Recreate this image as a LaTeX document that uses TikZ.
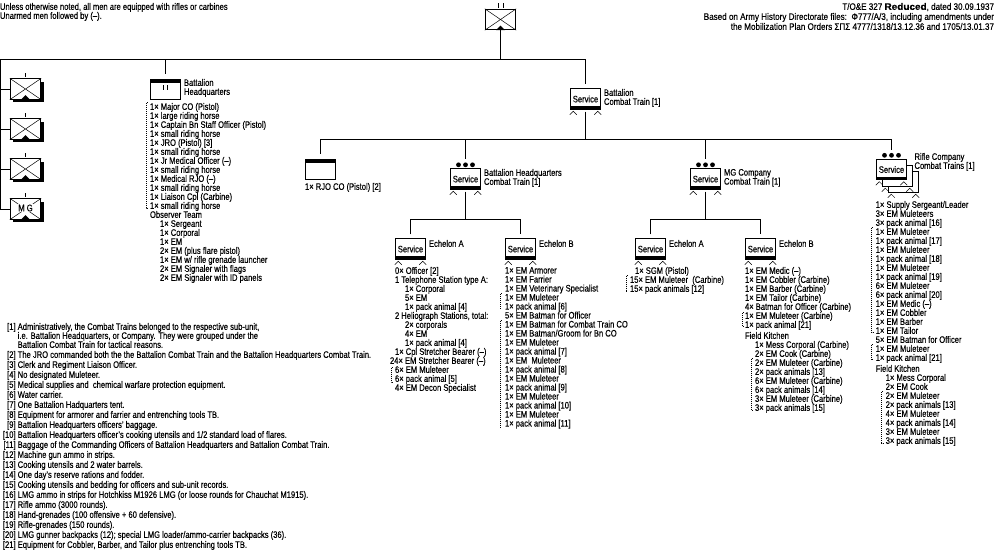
\documentclass[tikz,border=0pt]{standalone}
\usepackage{fontspec}
\setmainfont[FakeStretch=0.8,FakeBold=0.3]{Liberation Sans}
\newfontfamily\headfont[FakeStretch=0.85,FakeBold=0.3,BoldFont={Liberation Sans Bold},BoldFeatures={FakeStretch=1.05,FakeBold=0.5}]{Liberation Sans}
\usepackage{tikz}
\usetikzlibrary{positioning}
\usetikzlibrary{calc}
\tikzstyle{textlist} = [inner sep=0pt, outer sep=0pt, align=left, anchor=north west, yshift=-1pt, font=\fontsize{9.5}{9}\selectfont]
\tikzstyle{unitname} = [textlist]
\tikzstyle{unitbox} = [rectangle, draw=black, fill=white, line width=0.9pt, minimum width=30.5pt, minimum height=20.5pt, inner sep=0pt, font=\fontsize{9.5}{9}\selectfont]
\tikzstyle{link} = [line width=0.9pt]
\tikzstyle{dotbar} = [line width=1pt, dash pattern=on 1pt off 1pt]
\newcommand{\gap}{\hspace*{10pt}}
% X and triangle of an infantry box
\newcommand{\crossmark}[1]{
    \draw [line width=0.5pt] (#1.north west) -- (#1.south east) (#1.north east) -- (#1.south west);
    \fill [black] ($(#1.south)+(-4.5pt,0pt)$) -- ($(#1.south)+(0pt,4.5pt)$) -- ($(#1.south)+(4.5pt,0pt)$) -- cycle;
}
% foot marks of a train box
\newcommand{\wheelmark}[1]{
    \draw [line width=0.5pt] ($(#1.south west)+(0pt,-5pt)$) -- ++(3.5pt,3.5pt) -- ++(3.5pt,-3.5pt);
    \draw [line width=0.5pt] ($(#1.south east)+(-7pt,-5pt)$) -- ++(3.5pt,3.5pt) -- ++(3.5pt,-3.5pt);
}
% black bar along the foot of a service box
\newcommand{\trainmark}[1]{
    \fill [black] (#1.south west) rectangle ($(#1.south east)+(0pt,3.5pt)$);
    \wheelmark{#1}
}
\newcommand{\companydots}[1]{
    \fill [black] ($(#1.north)+(-7pt,3.5pt)$) circle (2.4pt) ($(#1.north)+(0pt,3.5pt)$) circle (2.4pt) ($(#1.north)+(7pt,3.5pt)$) circle (2.4pt);
}

\begin{document}
\begin{tikzpicture}[x=1pt, y=-1pt]
    \useasboundingbox (0,0) rectangle (1000,550);

    % notes at the top
    \node (general) [textlist] at (0,2) {Unless otherwise noted, all men are equipped with rifles or carbines\\Unarmed men followed by (--).};
    \node (source) [textlist, anchor=north east, align=right, font=\headfont\fontsize{9.5}{10}\selectfont] at (994,2) {T/O\&E 327 \textbf{Reduced}, dated 30.09.1937\\Based on Army History Directorate files: \,Φ777/Α/3, including amendments under\\the Mobilization Plan Orders ΣΠΣ 4777/1318/13.12.36 and 1705/13.01.37};

    % battalion
    \node (battalion) [unitbox] at (500.5,19.5) {};
    \crossmark{battalion}
    \draw [link] (498.5,3) -- (498.5,8) (503,3) -- (503,8);

    % rifle and MG companies
    \foreach \name/\ypos in {coA/89, coB/129, coC/169, coD/209} {
        \fill [black] (13,\ypos-7) rectangle (44,\ypos+13);
        \node (\name) [unitbox] at (25.5,\ypos) {};
        \crossmark{\name}
        \draw [link] (25.5,\ypos-16) -- (25.5,\ypos-12);
    }
    \node (mgtext) [fill=white, inner sep=0.5pt, font=\fontsize{9.5}{9}\selectfont] at (25.5,208) {M G};

    % battalion headquarters
    \node (hq) [unitbox] at (165.5,89.5) {};
    \fill [black] (hq.north west) rectangle ($(hq.north east)+(0pt,-4pt)$);
    \draw [link] (163,85) -- (163,90) (167,85) -- (167,90);
    \node (hqname) [unitname] at (184,78) {Battalion\\Headquarters};

    % battalion combat train
    \node (train) [unitbox] at (585.5,99) {Service};
    \trainmark{train}
    \node (trainname) [unitname] at (604,88) {Battalion\\Combat Train [1]};

    % rjo
    \node (rjo) [unitbox] at (320.5,169.5) {};
    \fill [black] (rjo.north west) rectangle ($(rjo.north east)+(0pt,-4pt)$);
    \node (rjotext) [unitname] at (305,182) {1× RJO CO (Pistol) [2]};

    % battalion headquarters combat train
    \node (hqtrain) [unitbox] at (465.5,179) {Service};
    \trainmark{hqtrain}
    \companydots{hqtrain}
    \node (hqtrainname) [unitname] at (484,168) {Battalion Headquarters\\Combat Train [1]};
    \node (hqA) [unitbox] at (410.5,249) {Service};
    \trainmark{hqA}
    \node (hqAname) [unitname] at (429,239) {Echelon A};
    \node (hqB) [unitbox] at (520.5,249) {Service};
    \trainmark{hqB}
    \node (hqBname) [unitname] at (539,239) {Echelon B};

    % mg company combat train
    \node (mgtrain) [unitbox] at (705.5,179) {Service};
    \trainmark{mgtrain}
    \companydots{mgtrain}
    \node (mgtrainname) [unitname] at (724,168) {MG Company\\Combat Train [1]};
    \node (mgA) [unitbox] at (650.5,249) {Service};
    \trainmark{mgA}
    \node (mgAname) [unitname] at (669,239) {Echelon A};
    \node (mgB) [unitbox] at (760.5,249) {Service};
    \trainmark{mgB}
    \node (mgBname) [unitname] at (779,239) {Echelon B};

    % rifle company combat trains, three stacked
    \node (rifleC) [unitbox] at (903.5,182) {};
    \wheelmark{rifleC}
    \node (rifleB) [unitbox] at (897.5,176) {};
    \wheelmark{rifleB}
    \node (rifleA) [unitbox] at (891.5,169.5) {Service};
    \trainmark{rifleA}
    \companydots{rifleA}
    \node (riflename) [unitname] at (914.5,152) {Rifle Company\\Combat Trains [1]};

    % connectors
    \coordinate (topbus) at (battalion |- 0,59);
    \coordinate (leftbus) at (0.5,59);
    \coordinate (trainbus) at (train |- 0,139.5);
    \coordinate (hqbus) at (hqtrain |- 0,219.5);
    \coordinate (mgbus) at (mgtrain |- 0,219.5);
    \draw [link] (battalion) -- (topbus);
    \draw [link] (topbus) -| ($(hq.north)+(0pt,5pt)$);
    \draw [link] (topbus) -| ($(train.north)+(0pt,4pt)$);
    \draw [link] (topbus) -- (leftbus) |- (coD.west);
    \draw [link] (leftbus |- coA.west) -- (coA.west);
    \draw [link] (leftbus |- coB.west) -- (coB.west);
    \draw [link] (leftbus |- coC.west) -- (coC.west);
    \draw [link] ($(train.south)+(0pt,-2pt)$) -- (trainbus);
    \draw [link] (trainbus) -| ($(rjo.north)+(0pt,4.5pt)$);
    \draw [link] (trainbus -| hqtrain) -- ($(hqtrain.north)+(0pt,9pt)$);
    \draw [link] (trainbus -| mgtrain) -- ($(mgtrain.north)+(0pt,9pt)$);
    \draw [link] (trainbus) -| ($(rifleA.north)+(0pt,9pt)$);
    \draw [link] ($(hqtrain.south)+(0pt,-2pt)$) -- (hqbus);
    \draw [link] ($(hqA.north)+(0pt,4pt)$) |- (hqbus) -| ($(hqB.north)+(0pt,4pt)$);
    \draw [link] ($(mgtrain.south)+(0pt,-2pt)$) -- (mgbus);
    \draw [link] ($(mgA.north)+(0pt,4pt)$) |- (mgbus) -| ($(mgB.north)+(0pt,4pt)$);

    % strengths
    \node (hqlist) [textlist] at (150,102) {1× Major CO (Pistol)\\1× large riding horse\\1× Captain Bn Staff Officer (Pistol)\\1× small riding horse\\1× JRO (Pistol) [3]\\1× small riding horse\\1× Jr Medical Officer (--)\\1× small riding horse\\1× Medical RJO (--)\\1× small riding horse\\1× Liaison Cpl (Carbine)\\1× small riding horse\\Observer Team\\\gap 1× Sergeant\\\gap 1× Corporal\\\gap 1× EM\\\gap 2× EM (plus flare pistol)\\\gap 1× EM w/ rifle grenade launcher\\\gap 2× EM Signaler with flags\\\gap 2× EM Signaler with ID panels};
    \node (hqAlist) [textlist] at (390,266) {\hspace*{5pt}0× Officer [2]\\\hspace*{5pt}1 Telephone Station type A:\\\hspace*{15pt}1× Corporal\\\hspace*{15pt}5× EM\\\hspace*{15pt}1× pack animal [4]\\\hspace*{5pt}2 Heliograph Stations, total:\\\hspace*{15pt}2× corporals\\\hspace*{15pt}4× EM\\\hspace*{15pt}1× pack animal [4]\\\hspace*{5pt}1× Cpl Stretcher Bearer (--)\\24× EM Stretcher Bearer (--)\\\hspace*{5pt}6× EM Muleteer\\\hspace*{5pt}6× pack animal [5]\\\hspace*{5pt}4× EM Decon Specialist};
    \node (hqBlist) [textlist] at (505,266) {1× EM Armorer\\1× EM Farrier\\1× EM Veterinary Specialist\\1× EM Muleteer\\1× pack animal [6]\\5× EM Batman for Officer\\1× EM Batman for Combat Train CO\\1× EM Batman/Groom for Bn CO\\1× EM Muleteer\\1× pack animal [7]\\1× EM \ Muleteer\\1× pack animal [8]\\1× EM Muleteer\\1× pack animal [9]\\1× EM Muleteer\\1× pack animal [10]\\1× EM Muleteer\\1× pack animal [11]};
    \node (mgAlist) [textlist] at (630,266) {\hspace*{5pt}1× SGM (Pistol)\\15× EM Muleteer \ (Carbine)\\15× pack animals [12]};
    \node (mgBlist) [textlist] at (745,266) {1× EM Medic (--)\\1× EM Cobbler (Carbine)\\1× EM Barber (Carbine)\\1× EM Tailor (Carbine)\\4× Batman for Officer (Carbine)\\1× EM Muleteer (Carbine)\\1× pack animal [21]\\[2pt]Field Kitchen\\\gap 1× Mess Corporal (Carbine)\\\gap 2× EM Cook (Carbine)\\\gap 2× EM Muleteer (Carbine)\\\gap 2× pack animals [13]\\\gap 6× EM Muleteer (Carbine)\\\gap 6× pack animals [14]\\\gap 3× EM Muleteer (Carbine)\\\gap 3× pack animals [15]};
    \node (riflelist) [textlist] at (875.7,200) {1× Supply Sergeant/Leader\\3× EM Muleteers\\3× pack animal [16]\\1× EM Muleteer\\1× pack animal [17]\\1× EM Muleteer\\1× pack animal [18]\\1× EM Muleteer\\1× pack animal [19]\\6× EM Muleteer\\6× pack animal [20]\\1× EM Medic (--)\\1× EM Cobbler\\1× EM Barber\\1× EM Tailor\\5× EM Batman for Officer\\1× EM Muleteer\\1× pack animal [21]\\[2pt]Field Kitchen\\\gap 1× Mess Corporal\\\gap 2× EM Cook\\\gap 2× EM Muleteer\\\gap 2× pack animals [13]\\\gap 4× EM Muleteer\\\gap 4× pack animals [14]\\\gap 3× EM Muleteer\\\gap 3× pack animals [15]};

    % dotted brackets
    \draw [dotbar] (147.5,102.5) -- (146,102.5) -- (146,208) -- (147.5,208);
    \draw [dotbar] (392.5,367) -- (391,367) -- (391,382.5) -- (392.5,382.5);
    \draw [dotbar] (501.5,293.5) -- (500,293.5) -- (500,308.5) -- (501.5,308.5);
    \draw [dotbar] (501.5,320) -- (500,320) -- (500,427) -- (501.5,427);
    \draw [dotbar] (627.5,275) -- (626,275) -- (626,291.5) -- (627.5,291.5);
    \draw [dotbar] (743.5,312.5) -- (742,312.5) -- (742,326.5) -- (743.5,326.5);
    \draw [dotbar] (753,358) -- (751.5,358) -- (751.5,410) -- (753,410);
    \draw [dotbar] (873,227) -- (871.5,227) -- (871.5,332.5) -- (873,332.5);
    \draw [dotbar] (873,344) -- (871.5,344) -- (871.5,359) -- (873,359);
    \draw [dotbar] (883,391.5) -- (881.5,391.5) -- (881.5,443) -- (883,443);

    % footnotes
    \node (footnotes) [textlist, font=\fontsize{9.5}{10}\selectfont] at (0,322) {
        \makebox[15.6pt][r]{[1]} Administratively, the Combat Trains belonged to the respective sub-unit,\\[-1pt]
        \hspace*{17.7pt}i.e. Battalion Headquarters, or Company. They were grouped under the\\[-1pt]
        \hspace*{17.7pt}Battalion Combat Train for tactical reasons.\\
        \makebox[15.6pt][r]{[2]} The JRO commanded both the the Battalion Combat Train and the Battalion Headquarters Combat Train.\\
        \makebox[15.6pt][r]{[3]} Clerk and Regiment Liaison Officer.\\
        \makebox[15.6pt][r]{[4]} No designated Muleteer.\\
        \makebox[15.6pt][r]{[5]} Medical supplies and \ chemical warfare protection equipment.\\
        \makebox[15.6pt][r]{[6]} Water carrier.\\
        \makebox[15.6pt][r]{[7]} One Battalion Hadquarters tent.\\
        \makebox[15.6pt][r]{[8]} Equipment for armorer and farrier and entrenching tools TB.\\
        \makebox[15.6pt][r]{[9]} Battalion Headquarters officers' baggage.\\
        \makebox[15.6pt][r]{[10]} Battalion Headquarters officer's cooking utensils and 1/2 standard load of flares.\\
        \makebox[15.6pt][r]{[11]} Baggage of the Commanding Officers of Battalion Headquarters and Battalion Combat Train.\\
        \makebox[15.6pt][r]{[12]} Machine gun ammo in strips.\\
        \makebox[15.6pt][r]{[13]} Cooking utensils and 2 water barrels.\\
        \makebox[15.6pt][r]{[14]} One day's reserve rations and fodder.\\
        \makebox[15.6pt][r]{[15]} Cooking utensils and bedding for officers and sub-unit records.\\
        \makebox[15.6pt][r]{[16]} LMG ammo in strips for Hotchkiss M1926 LMG (or loose rounds for Chauchat M1915).\\
        \makebox[15.6pt][r]{[17]} Rifle ammo (3000 rounds).\\
        \makebox[15.6pt][r]{[18]} Hand-grenades (100 offensive + 60 defensive).\\
        \makebox[15.6pt][r]{[19]} Rifle-grenades (150 rounds).\\
        \makebox[15.6pt][r]{[20]} LMG gunner backpacks (12); special LMG loader/ammo-carrier backpacks (36).\\
        \makebox[15.6pt][r]{[21]} Equipment for Cobbler, Barber, and Tailor plus entrenching tools TB.};
\end{tikzpicture}
\end{document}
